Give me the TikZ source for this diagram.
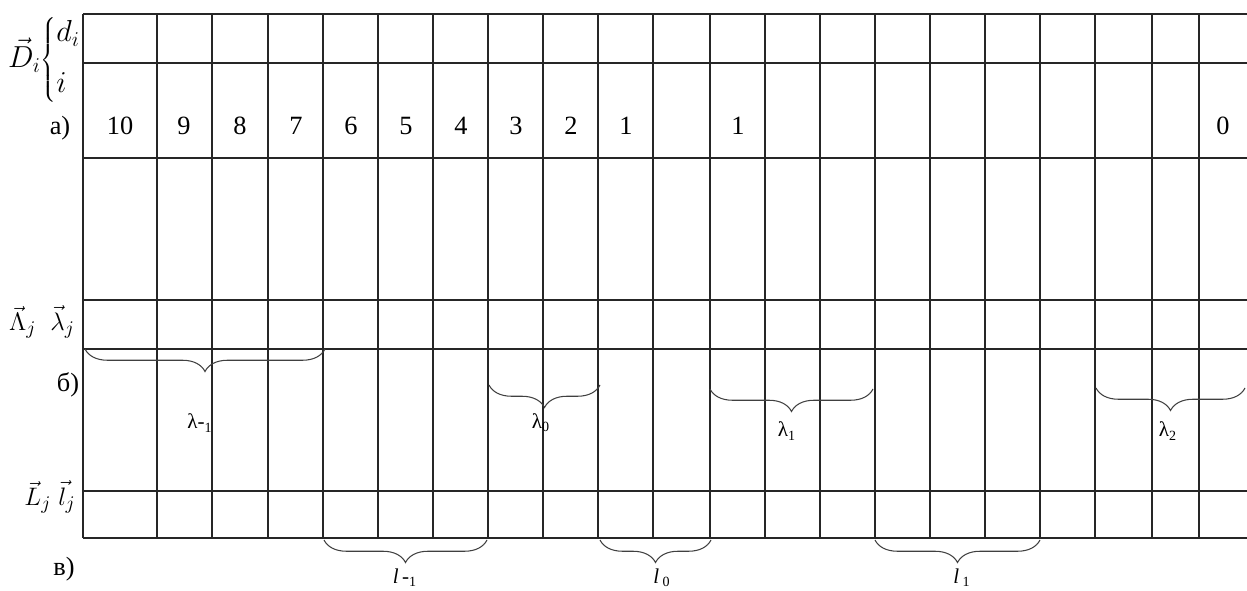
\documentclass[tikz,border=0pt]{standalone}
\usepackage{fontspec}
\setmainfont{Liberation Serif}
\usetikzlibrary{decorations.pathreplacing}

\tikzset{
  grid line/.style={line width=0.8pt, black!85},
  span brace/.style={decorate, decoration={brace, mirror, amplitude=0.45cm}, line width=0.6pt, black!75},
  cell num/.style={font=\fontsize{15}{18}\selectfont},
  span lab/.style={font=\fontsize{12}{14}\selectfont},
  side lab/.style={font=\fontsize{15}{18}\selectfont},
}

\begin{document}
\begin{tikzpicture}[x=0.02cm, y=-0.02cm]
\useasboundingbox (0,0) rectangle (1247,591);

% Таблица
\foreach \y in {14,63,158,300,349,491,538}
  \draw [grid line] (83,\y) -- (1247,\y);
\foreach \x in {83,157,212,268,323,378,433,488,543,598,653,710,765,820,875,930,985,1040,1095,1152,1199}
  \draw [grid line] (\x,14) -- (\x,538);

% Номера разрядов
\foreach \x/\v [count=\k] in {120/10,184/9,240/8,296/7,351/6,406/5,461/4,516/3,571/2,626/1,738/1,1223/0}
  \node [cell num] (d\k) at (\x,126) {\v};

% Подписи слева
\node [font=\fontsize{17}{20}\selectfont] (dvec) at (45,60) {$\vec{D}_i\!\left\{\begin{array}{@{}l@{}}d_i\\[9pt] i\end{array}\right.$};
\node [side lab] (lamvec) at (42,322) {$\vec{\Lambda}_j\;\;\vec{\lambda}_j$};
\node [side lab] (lvec) at (50,497) {$\vec{L}_j\;\vec{l}_j$};
\node [cell num] (ca) at (60,128) {а)};
\node [cell num] (cb) at (68,385) {б)};
\node [cell num] (cv) at (64,569) {в)};

% Скобки б)
\coordinate (lm1a) at (85,349);   \coordinate (lm1b) at (325,349);
\coordinate (l0a) at (489,385);   \coordinate (l0b) at (600,385);
\coordinate (l1a) at (710,389);   \coordinate (l1b) at (873,389);
\coordinate (l2a) at (1096,388);  \coordinate (l2b) at (1245,388);
\draw [span brace] (lm1a) -- (lm1b);
\draw [span brace] (l0a) -- (l0b);
\draw [span brace] (l1a) -- (l1b);
\draw [span brace] (l2a) -- (l2b);
\node [span lab] (lamm1) at (200,423) {λ-\textsubscript{1}};
\node [span lab] (lam0) at (541,423) {λ\textsubscript{0}};
\node [span lab] (lam1) at (787,431) {λ\textsubscript{1}};
\node [span lab] (lam2) at (1168,431) {λ\textsubscript{2}};

% Скобки в)
\coordinate (sm1a) at (324,540);  \coordinate (sm1b) at (487,540);
\coordinate (s0a) at (600,540);   \coordinate (s0b) at (711,540);
\coordinate (s1a) at (875,540);   \coordinate (s1b) at (1040,540);
\draw [span brace] (sm1a) -- (sm1b);
\draw [span brace] (s0a) -- (s0b);
\draw [span brace] (s1a) -- (s1b);
\node [span lab] (ellm1) at (405,578) {\textit{l}\,-\textsubscript{1}};
\node [span lab] (ell0) at (662,578) {\textit{l}\,\textsubscript{0}};
\node [span lab] (ell1) at (962,578) {\textit{l}\,\textsubscript{1}};
\end{tikzpicture}
\end{document}
